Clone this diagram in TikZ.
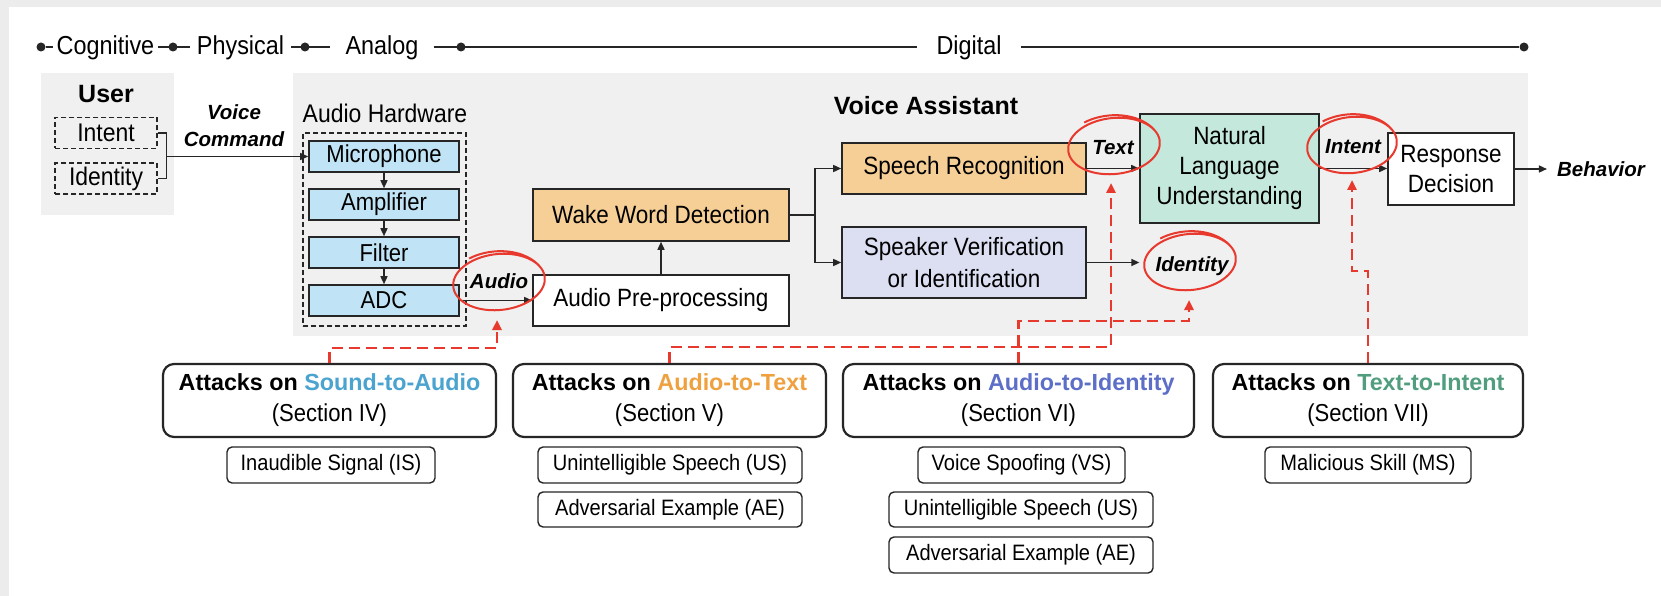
\documentclass[tikz,border=0pt]{standalone}
\usepackage{fontspec}
\setmainfont{Liberation Sans}
\newfontfamily\narrowfont[FakeStretch=0.9]{Liberation Sans}
\usetikzlibrary{arrows.meta,calc}

\definecolor{framegray}{HTML}{ECECEC}
\definecolor{panelgray}{HTML}{F0F0F0}
\definecolor{inkc}{HTML}{262626}
\definecolor{hwfill}{HTML}{C0E4F5}
\definecolor{orfill}{HTML}{F6CF96}
\definecolor{lvfill}{HTML}{DCDEF2}
\definecolor{mtfill}{HTML}{C4E9DC}
\definecolor{ringred}{HTML}{E8392E}
\definecolor{cSA}{HTML}{4BA3D0}
\definecolor{cAT}{HTML}{EFA13F}
\definecolor{cAI}{HTML}{5C6EC8}
\definecolor{cTI}{HTML}{509E7E}

% narrow sans at a given size / baseline skip
\newcommand{\nsz}[2]{\narrowfont\fontsize{#1}{#2}\selectfont}
% hand-drawn highlight ring: centre, x radius, y radius (in pt)
\newcommand{\handring}[3]{%
  \begin{scope}[shift={(#1)}, rotate=6]
  \draw[ringred, line width=2pt] (0,0) ++(25:#2pt and #3pt)
    arc[start angle=25, end angle=385, x radius=#2pt, y radius=#3pt]
    arc[start angle=25, end angle=120, x radius=#2pt+3pt, y radius=#3pt+5pt];
  \end{scope}
}

\begin{document}
\begin{tikzpicture}[x=1pt, y=-1pt,
  ink/.style={draw=inkc, line width=1.5pt},
  arr/.style={ink, -{Triangle[length=8pt,width=7pt]}},
  flow/.style={draw=inkc, line width=1.6pt, inner sep=0pt, align=center, font=\nsz{25}{30}},
  hwunit/.style={flow, fill=hwfill, minimum width=150pt, minimum height=31pt, font=\nsz{24.5}{29}},
  userfield/.style={draw=inkc, line width=1.3pt, dash pattern=on 5pt off 3pt, minimum width=102pt, minimum height=31pt, inner sep=0pt, font=\nsz{25.5}{30}},
  flowlbl/.style={font=\bfseries\itshape\fontsize{20.5}{27}\selectfont, inner sep=0pt, align=center},
  tllbl/.style={font=\nsz{26}{30}, inner ysep=0pt, anchor=base},
  tldot/.style={circle, fill=inkc, inner sep=0pt, minimum size=9pt},
  tlline/.style={draw=inkc, line width=2pt},
  panel/.style={fill=panelgray, inner sep=0pt},
  atkbox/.style={draw=inkc, line width=2.2pt, rounded corners=11pt, minimum height=73pt, inner sep=0pt, align=center, font=\bfseries\fontsize{23.3}{31}\selectfont},
  atkitem/.style={draw=inkc, line width=1.4pt, rounded corners=5pt, minimum height=36pt, inner sep=0pt, font=\nsz{22.3}{27}},
  redlink/.style={draw=ringred, line width=2.8pt, dash pattern=on 11pt off 6pt, -{Triangle[length=10pt,width=9pt]}},
]
\useasboundingbox (0,0) rectangle (1661,596);
% page and frame
\fill[white] (0,0) rectangle (1661,596);
\fill[framegray] (0,0) rectangle (1661,7);
\fill[framegray] (0,0) rectangle (9,596);

% ---------- timeline ----------
\node[tldot] (d1) at (41,47) {};
\node[tllbl, inner xsep=4pt] (tcog) at (105.5,55) {Cognitive};
\node[tldot] (d2) at (173,47) {};
\node[tllbl, inner xsep=7pt] (tphy) at (240.5,55) {Physical};
\node[tldot] (d3) at (305,47) {};
\node[tllbl, inner xsep=15pt] (tana) at (382,55) {Analog};
\node[tldot] (d4) at (461,47) {};
\node[tllbl, inner xsep=19pt] (tdig) at (969,55) {Digital};
\node[tldot] (d5) at (1524,47) {};
\draw[tlline] (d1) -- (d1 -| tcog.west);
\draw[tlline] (d2 -| tcog.east) -- (d2 -| tphy.west);
\draw[tlline] (d3 -| tphy.east) -- (d3 -| tana.west);
\draw[tlline] (d4 -| tana.east) -- (d4 -| tdig.west);
\draw[tlline] (d5 -| tdig.east) -- (d5);

% ---------- panels ----------
\node[panel, minimum width=133pt, minimum height=142pt] (userpanel) at (107.5,144) {};
\node[panel, minimum width=1235pt, minimum height=263pt] (vapanel) at (910.5,204.5) {};

% ---------- user ----------
\node[font=\bfseries\fontsize{25}{30}\selectfont, anchor=base, inner sep=0pt] (userttl) at (106,103) {User};
\node[userfield] (intent) at (106,133) {Intent};
\node[userfield] (identity) at (106,178.5) {Identity};
\coordinate (brk) at (166,156.5);
\draw[ink] (intent.east) -- ++(9,0) |- (identity.east);
\node[flowlbl] (vclbl) at (234,126) {Voice\\Command};

% ---------- audio hardware ----------
\node[font=\nsz{25.5}{30}, anchor=base, inner sep=0pt] (hwttl) at (385,123) {Audio Hardware};
\node[draw=inkc, line width=1.3pt, dash pattern=on 5pt off 3pt, minimum width=163pt, minimum height=193pt, inner sep=0pt] (hwframe) at (384.5,229.5) {};
\node[hwunit] (mic) at (384,156.5) {Microphone};
\node[hwunit] (amp) at (384,204.5) {Amplifier};
\node[hwunit] (filt) at (384,252.5) {Filter};
\node[hwunit] (adc) at (384,300.5) {ADC};
\draw[arr] (brk) -- (brk -| mic.west);
\draw[arr] (mic) -- (amp);
\draw[arr] (amp) -- (filt);
\draw[arr] (filt) -- (adc);

% ---------- voice assistant ----------
\node[font=\bfseries\fontsize{25}{30}\selectfont, anchor=base, inner sep=0pt] (vattl) at (926,115) {Voice Assistant};
\node[flow, fill=white, minimum width=256pt, minimum height=51pt] (pre) at (661,300.5) {Audio Pre-processing};
\node[flow, fill=orfill, minimum width=256pt, minimum height=52pt] (wake) at (661,215) {Wake Word Detection};
\node[flow, fill=orfill, minimum width=244pt, minimum height=51pt] (speech) at (964,168.5) {Speech Recognition};
\node[flow, fill=lvfill, minimum width=244pt, minimum height=71pt, font=\nsz{25}{32}] (speaker) at (964,262.5) {Speaker Verification\\or Identification};
\node[flow, fill=mtfill, minimum width=179pt, minimum height=109pt] (nlu) at (1229.5,168.5) {Natural\\Language\\Understanding};
\node[flow, fill=white, minimum width=126pt, minimum height=72pt] (resp) at (1451,169) {Response\\Decision};

\node[flowlbl, anchor=base] (audiolbl) at (499,288) {Audio};
\node[flowlbl, anchor=base] (textlbl) at (1113,155) {Text};
\node[flowlbl, anchor=base] (intentlbl) at (1353,154) {Intent};
\node[flowlbl, text height=14pt, text depth=0pt, inner xsep=16pt] (idlbl) at (1192,264) {Identity};
\node[flowlbl, text height=14pt, text depth=0pt, inner xsep=10pt] (behlbl) at (1601,170) {Behavior};

\coordinate (split) at (815,215);
\draw[arr] (adc.east) -- (adc.east -| pre.west);
\draw[arr] (pre) -- (wake);
\draw[ink] (wake.east) -- (split);
\draw[arr] (split) |- (speech.west);
\draw[arr] (split) |- (speaker.west);
\draw[arr] (speech.east) -- (speech.east -| nlu.west);
\draw[arr] (speaker.east) -- (speaker.east -| idlbl.west);
\draw[arr] (nlu.east) -- (nlu.east -| resp.west);
\draw[arr] (resp.east) -- (resp.east -| behlbl.west);

% ---------- attack categories ----------
\node[atkbox] (atk1) at (329.5,400.5) [minimum width=333pt] {Attacks on \textcolor{cSA}{Sound-to-Audio}\\{\mdseries\nsz{24.5}{31}(Section IV)}};
\node[atkbox] (atk2) at (669.5,400.5) [minimum width=313pt] {Attacks on \textcolor{cAT}{Audio-to-Text}\\{\mdseries\nsz{24.5}{31}(Section V)}};
\node[atkbox] (atk3) at (1018.5,400.5) [minimum width=351pt] {Attacks on \textcolor{cAI}{Audio-to-Identity}\\{\mdseries\nsz{24.5}{31}(Section VI)}};
\node[atkbox] (atk4) at (1368,400.5) [minimum width=310pt] {Attacks on \textcolor{cTI}{Text-to-Intent}\\{\mdseries\nsz{24.5}{31}(Section VII)}};

\node[atkitem, minimum width=208pt] (is) at (331,465) {Inaudible Signal (IS)};
\node[atkitem, minimum width=264pt] (usa) at (670,465) {Unintelligible Speech (US)};
\node[atkitem, minimum width=264pt, minimum height=35pt] (aea) at (670,509.5) {Adversarial Example (AE)};
\node[atkitem, minimum width=207pt] (vs) at (1021.5,465) {Voice Spoofing (VS)};
\node[atkitem, minimum width=264pt, minimum height=35pt] (usb) at (1021,509.5) {Unintelligible Speech (US)};
\node[atkitem, minimum width=264pt] (aeb) at (1021,555) {Adversarial Example (AE)};
\node[atkitem, minimum width=206pt] (ms) at (1368,465) {Malicious Skill (MS)};

% ---------- attack targets ----------
\coordinate (tipA) at (497,320);
\coordinate (tipT) at (1111,183);
\coordinate (tipI) at (1189,300);
\coordinate (tipN) at (1352,180);
\draw[redlink] (atk1.north) -- ++(0,-15) -| (tipA);
\draw[redlink] (atk2.north) -- ++(0,-16) -| (tipT);
\draw[redlink] (atk3.north) -- ++(0,-42) -| (tipI);
\draw[redlink] (atk4.north) -- ++(0,-92) -| (tipN);

\handring{499,282}{46}{28}
\handring{1114,146}{46}{28}
\handring{1352,145}{45}{28}
\handring{1190,262}{46}{28}
\end{tikzpicture}
\end{document}
